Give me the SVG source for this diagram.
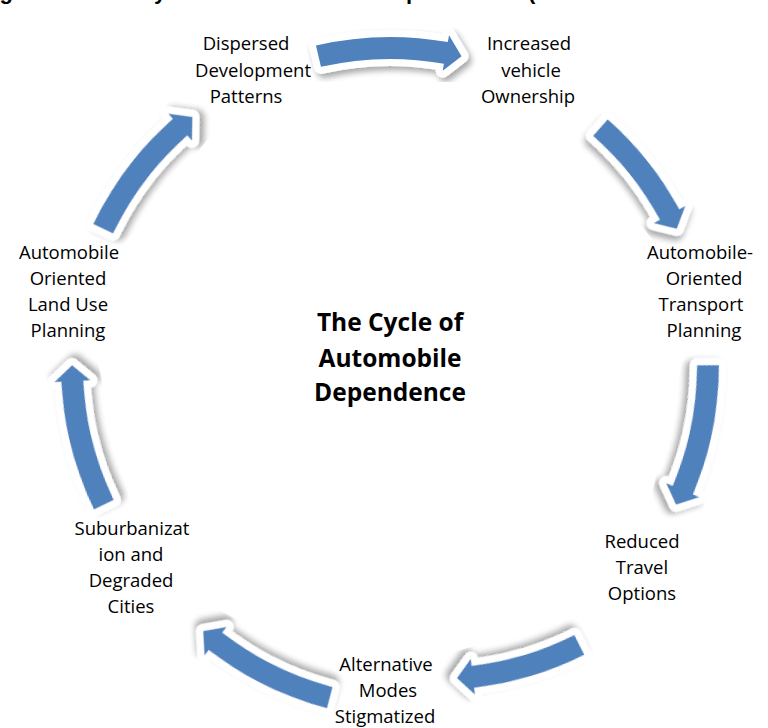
<svg xmlns="http://www.w3.org/2000/svg" xmlns:xlink="http://www.w3.org/1999/xlink" width="768" height="728" viewBox="0 0 768 728">
  <style>
    .lbl { font-family: "Open Sans", "Liberation Sans", sans-serif; font-size: 18.5px; fill: #000; text-anchor: middle; }
    .ttl { font-family: "Open Sans", "Liberation Sans", sans-serif; font-size: 24.5px; font-weight: bold; fill: #000; text-anchor: middle; }
    .cap { font-family: "Liberation Sans", "Open Sans", sans-serif; font-size: 22px; font-weight: bold; fill: #000; }
    .arw { fill: #4f81bd; stroke: #ffffff; stroke-width: 14; stroke-linejoin: round; paint-order: stroke; filter: url(#shadow); }
  </style>
  <defs>
    <filter id="shadow" x="-30%" y="-30%" width="160%" height="160%">
      <feGaussianBlur in="SourceAlpha" stdDeviation="3"/>
      <feOffset dx="3" dy="4" result="off"/>
      <feComponentTransfer>
        <feFuncA type="linear" slope="0.35"/>
      </feComponentTransfer>
      <feMerge>
        <feMergeNode/>
        <feMergeNode in="SourceGraphic"/>
      </feMerge>
    </filter>
    <!-- curved block arrow on a ring of radius 318 about the origin, centred at the top -->
    <path id="ring-arrow" d="M -69.06 -299.13 L -74.01 -320.57 A 329 329 0 0 1 57.81 -323.88 L 59.04 -330.77 L 71.53 -309.85 L 52.71 -295.33 L 53.94 -302.22 A 307 307 0 0 0 -69.06 -299.13 Z"/>
    <!-- same arrow with a shorter tail -->
    <path id="ring-arrow-short" d="M -53.31 -302.34 L -57.13 -324.00 A 329 329 0 0 1 57.81 -323.88 L 59.04 -330.77 L 71.53 -309.85 L 52.71 -295.33 L 53.94 -302.22 A 307 307 0 0 0 -53.31 -302.34 Z"/>
  </defs>

  <rect width="768" height="728" fill="#ffffff"/>

  <!-- caption, running off the top edge -->
  <text class="cap" y="-1"><tspan x="-20">Figure 2:</tspan><tspan x="93">The Cycle</tspan><tspan x="203">of Automobile</tspan><tspan x="378">Dependence</tspan><tspan x="528">(</tspan></text>

  <g id="connectors" transform="translate(390 366)">
    <use xlink:href="#ring-arrow" class="arw" transform="rotate(0)"/>
    <use xlink:href="#ring-arrow-short" class="arw" transform="rotate(51.43)"/>
    <use xlink:href="#ring-arrow" class="arw" transform="rotate(102.86)"/>
    <!-- lower arrows sit on a flatter curve: turned about their tips -->
    <use xlink:href="#ring-arrow-short" class="arw" transform="translate(-3 2) rotate(9 70 310.2) rotate(154.29)"/>
    <use xlink:href="#ring-arrow" class="arw" transform="translate(12 17) rotate(2 -198.9 248.1) rotate(205.71)"/>
    <use xlink:href="#ring-arrow" class="arw" transform="rotate(257.14)"/>
    <use xlink:href="#ring-arrow" class="arw" transform="rotate(308.57)"/>
  </g>

  <g id="center-title">
    <text class="ttl" x="390" y="331">The Cycle of</text>
    <text class="ttl" x="390" y="367">Automobile</text>
    <text class="ttl" x="390" y="401">Dependence</text>
  </g>

  <g id="node-dispersed">
    <text class="lbl" x="246" y="50">Dispersed</text>
    <text class="lbl" x="253" y="77">Development</text>
    <text class="lbl" x="246" y="103">Patterns</text>
  </g>
  <g id="node-ownership">
    <text class="lbl" x="529" y="50">Increased</text>
    <text class="lbl" x="531" y="77">vehicle</text>
    <text class="lbl" x="528" y="103">Ownership</text>
  </g>
  <g id="node-transport-planning">
    <text class="lbl" x="700" y="259">Automobile-</text>
    <text class="lbl" x="704" y="285">Oriented</text>
    <text class="lbl" x="701" y="311">Transport</text>
    <text class="lbl" x="704" y="337">Planning</text>
  </g>
  <g id="node-travel-options">
    <text class="lbl" x="642" y="548">Reduced</text>
    <text class="lbl" x="642" y="574">Travel</text>
    <text class="lbl" x="642" y="600">Options</text>
  </g>
  <g id="node-stigmatized">
    <text class="lbl" x="386" y="671">Alternative</text>
    <text class="lbl" x="388" y="697">Modes</text>
    <text class="lbl" x="385" y="723">Stigmatized</text>
  </g>
  <g id="node-suburbanization">
    <text class="lbl" x="132" y="535">Suburbanizat</text>
    <text class="lbl" x="131" y="561">ion and</text>
    <text class="lbl" x="131" y="587">Degraded</text>
    <text class="lbl" x="131" y="613">Cities</text>
  </g>
  <g id="node-land-use">
    <text class="lbl" x="69" y="259">Automobile</text>
    <text class="lbl" x="68" y="285">Oriented</text>
    <text class="lbl" x="68" y="311">Land Use</text>
    <text class="lbl" x="68" y="337">Planning</text>
  </g>
</svg>
